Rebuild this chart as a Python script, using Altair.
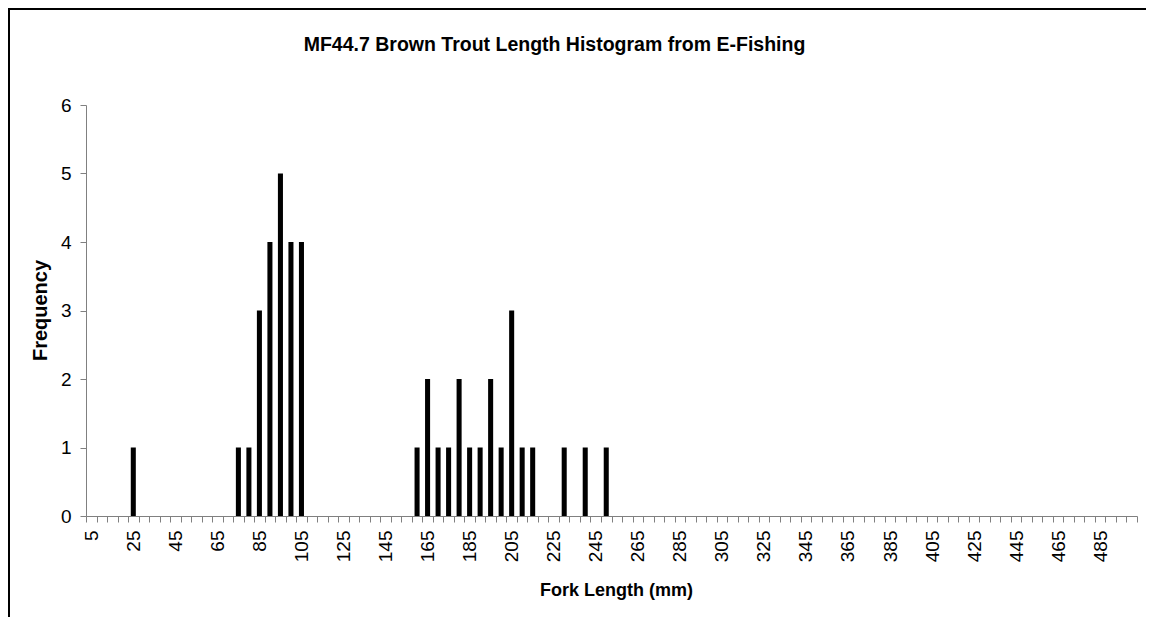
import altair as alt
import pandas as pd

# Category axis (bin labels, mm)
categories = list(range(5, 505, 5))

# Non-empty bins
bin_lengths = [25, 75, 80, 85, 90, 95, 100, 105,
               160, 165, 170, 175, 180, 185, 190, 195, 200, 205, 210, 215,
               230, 240, 250]
frequencies = [1, 1, 1, 3, 4, 5, 4, 4,
               1, 2, 1, 1, 2, 1, 1, 2, 1, 3, 1, 1,
               1, 1, 1]

df = pd.DataFrame({"length": bin_lengths, "freq": frequencies})

FONT = "Liberation Sans"
W, H = 1051, 411

bars = alt.Chart(df).mark_bar(
    color="black", width=alt.RelativeBandSize(0.48)
).encode(
    x=alt.X(
        "length:O",
        scale=alt.Scale(domain=categories, paddingInner=0, paddingOuter=0),
        axis=alt.Axis(
            title="Fork Length (mm)",
            labelAngle=-90,
            labelExpr="(datum.value - 5) % 20 == 0 ? datum.value : ''",
            tickBand="extent",
            labelFont=FONT, labelFontSize=19, labelColor="black",
            labelPadding=8,
            titleFont=FONT, titleFontSize=18, titleFontWeight="bold",
            titleColor="black",
            titleX=530, titleY=74, titleBaseline="middle", titleAlign="center",
            domainColor="#808080", tickColor="#808080", tickSize=6,
            labelOverlap=False, grid=False,
        ),
    ),
    y=alt.Y(
        "freq:Q",
        scale=alt.Scale(domain=[0, 6], nice=False),
        axis=alt.Axis(
            title="Frequency",
            values=[0, 1, 2, 3, 4, 5, 6],
            format="d",
            labelFont=FONT, labelFontSize=19, labelColor="black",
            labelPadding=9,
            titleFont=FONT, titleFontSize=20, titleFontWeight="bold",
            titleColor="black",
            titleX=-46, titleY=205, titleBaseline="middle", titleAlign="center",
            titleAngle=-90,
            domainColor="#808080", tickColor="#808080", tickSize=6,
            grid=False,
        ),
    ),
)

frame_src = pd.DataFrame({"f": [0]})
frame_left = alt.Chart(frame_src).mark_rule(color="black", strokeWidth=2).encode(
    x=alt.value(-77), y=alt.value(-96), y2=alt.value(H + 300),
)
frame_top = alt.Chart(frame_src).mark_rule(color="black", strokeWidth=2).encode(
    x=alt.value(-78), x2=alt.value(W + 300), y=alt.value(-96),
)

chart = alt.layer(frame_left, frame_top, bars).properties(
    width=W,
    height=H,
    title=alt.Title(
        "MF44.7 Brown Trout Length Histogram from E-Fishing",
        font=FONT, fontSize=19.5, fontWeight="bold", color="black",
        anchor="middle", dx=-57, offset=0, dy=47,
    ),
    autosize=alt.AutoSizeParams(type="none"),
    padding={"left": 78, "top": 97, "right": 9, "bottom": 101},
).configure(
    background="white",
    view=alt.ViewConfig(stroke="transparent", strokeWidth=0),
)

chart.save("out.html", embed_options={"renderer": "svg", "actions": False})
